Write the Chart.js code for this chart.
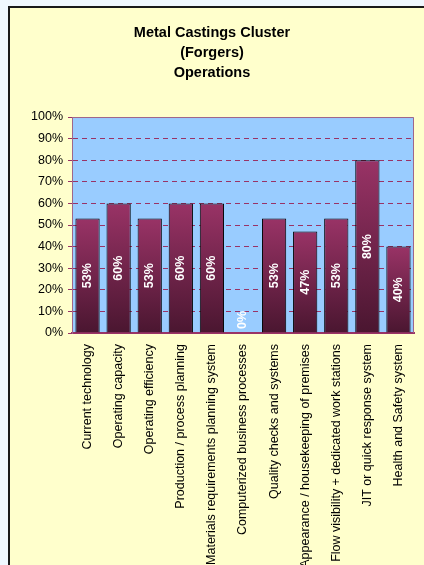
<!DOCTYPE html>
<html>
<head>
<meta charset="utf-8">
<script src="https://cdn.jsdelivr.net/npm/chart.js@4"></script>
<style>
  html, body { margin: 0; padding: 0; background: #f0f8ff; overflow: hidden; }
  .chart-box {
    position: absolute; left: 8px; top: 6px;
    width: 420px; height: 559px;
    background: #ffffcc;
    border-left: 2px solid #1a1a1a;
    border-top: 2px solid #1a1a1a;
  }
  #chart { display: block; }
</style>
</head>
<body>
<div class="chart-box">
  <canvas id="chart" width="420" height="557"></canvas>
</div>
<script>
'use strict';

/* ---- DATA --------------------------------------------------- */
const titleLines = ['Metal Castings Cluster', '(Forgers)', 'Operations'];

const categories = [
  'Current technology',
  'Operating capacity',
  'Operating efficiency',
  'Production / process planning',
  'Materials requirements planning system',
  'Computerized business processes',
  'Quality checks and systems',
  'Appearance / housekeeping of premises',
  'Flow visibility + dedicated work stations',
  'JIT or quick response system',
  'Health and Safety system'
];

const scores = [53, 60, 53, 60, 60, 0, 53, 47, 53, 80, 40];

const yTicks = [0, 10, 20, 30, 40, 50, 60, 70, 80, 90, 100];

/* ---- STYLE -------------------------------------------------- */
const FONT = 'Arial, "Liberation Sans", sans-serif';
const PLOT_BG = '#99ccff';
const MAUVE = '#993366';

// gradient per bar, light top -> dark bottom
function barGradient(ctx) {
  const chart = ctx.chart;
  const area = chart.chartArea;
  if (!area || ctx.type !== 'data') return MAUVE;
  const y = chart.scales.y;
  const top = y.getPixelForValue(ctx.parsed.y);
  const bottom = y.getPixelForValue(0);
  if (bottom - top < 1) return MAUVE;
  const g = chart.ctx.createLinearGradient(0, top, 0, bottom);
  g.addColorStop(0, '#993366');
  g.addColorStop(1, '#4a1630');
  return g;
}

/* ---- PLUGINS ------------------------------------------------ */
const plotBackground = {
  id: 'plotBackground',
  beforeDraw(chart) {
    const { ctx, chartArea: a } = chart;
    ctx.save();
    ctx.fillStyle = PLOT_BG;
    ctx.fillRect(a.left, a.top, a.right - a.left, a.bottom - a.top);
    ctx.restore();
  },
  afterDatasetsDraw(chart) {
    const { ctx, chartArea: a } = chart;
    ctx.save();
    ctx.strokeStyle = '#a0668a';
    ctx.lineWidth = 1;
    ctx.beginPath();
    ctx.moveTo(a.left, a.top + 0.5);
    ctx.lineTo(a.right - 0.5, a.top + 0.5);
    ctx.lineTo(a.right - 0.5, a.bottom);
    ctx.stroke();
    ctx.restore();
  }
};

const barLabels = {
  id: 'barLabels',
  afterDatasetsDraw(chart) {
    const { ctx } = chart;
    const meta = chart.getDatasetMeta(0);
    const base = chart.scales.y.getPixelForValue(0);
    ctx.save();
    ctx.fillStyle = '#ffffff';
    ctx.font = 'bold 12.5px ' + FONT;
    ctx.textAlign = 'center';
    ctx.textBaseline = 'middle';
    meta.data.forEach((bar, i) => {
      const v = scores[i];
      const cy = v > 0 ? (bar.y + base) / 2 : base - 13;
      ctx.save();
      ctx.translate(bar.x, cy);
      ctx.rotate(-Math.PI / 2);
      ctx.fillText(v + '%', 0, 0);
      ctx.restore();
    });
    ctx.restore();
  }
};

/* ---- CHART -------------------------------------------------- */
new Chart(document.getElementById('chart'), {
  type: 'bar',
  data: {
    labels: categories,
    datasets: [{
      data: scores,
      backgroundColor: barGradient,
      borderColor: '#000000',
      borderWidth: 1,
      borderSkipped: 'bottom',
      barPercentage: 0.78,
      categoryPercentage: 1
    }]
  },
  options: {
    responsive: false,
    animation: false,
    layout: { padding: { left: 0, right: 16, top: 0, bottom: 0 } },
    plugins: {
      legend: { display: false },
      tooltip: { enabled: false },
      title: {
        display: true,
        text: titleLines,
        color: '#000000',
        font: { family: FONT, size: 14.5, weight: 'bold', lineHeight: 1.38 },
        padding: { top: 15, bottom: 34 }
      }
    },
    scales: {
      x: {
        grid: { display: false },
        border: { color: MAUVE, width: 2 },
        ticks: {
          color: '#000000',
          font: { family: FONT, size: 12.5 },
          minRotation: 90,
          maxRotation: 90,
          autoSkip: false,
          padding: 3
        },
        afterFit(scale) { scale.height = 232; }
      },
      y: {
        min: 0,
        max: 100,
        afterBuildTicks(scale) { scale.ticks = yTicks.map(v => ({ value: v })); },
        grid: {
          color: ctx => (ctx.tick && (ctx.tick.value === 0 || ctx.tick.value === 100)) ? 'rgba(0,0,0,0)' : MAUVE,
          tickColor: MAUVE,
          tickBorderDash: [],
          tickLength: 4,
          drawOnChartArea: true
        },
        border: { color: '#a0668a', width: 1, dash: [5, 4] },
        ticks: {
          color: '#000000',
          font: { family: FONT, size: 12.5 },
          padding: 5,
          callback: v => v + '%'
        },
        afterFit(scale) { scale.width = 62; }
      }
    }
  },
  plugins: [plotBackground, barLabels]
});
</script>
</body>
</html>
